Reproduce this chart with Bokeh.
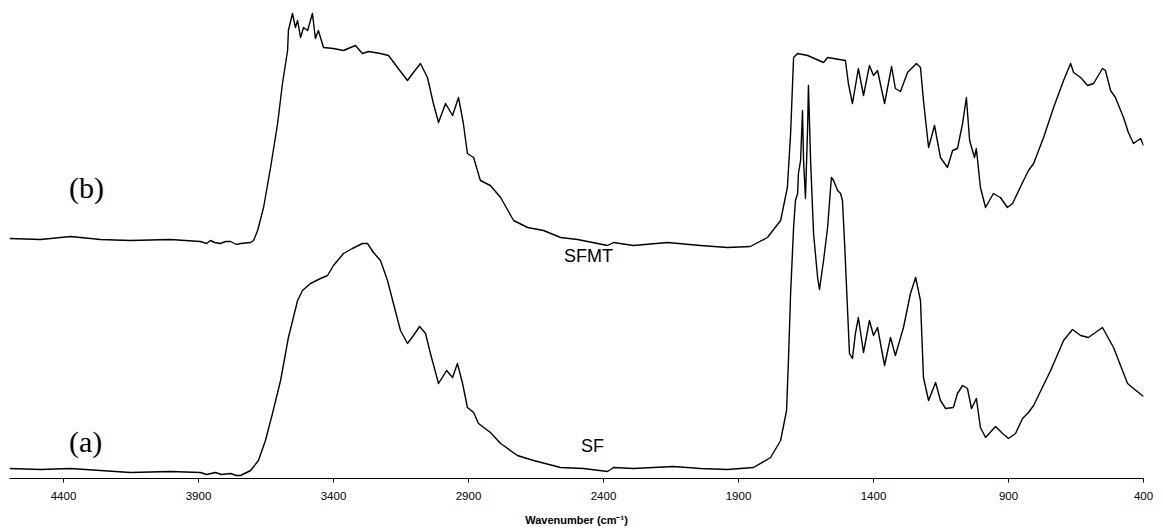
from bokeh.plotting import figure
from bokeh.models import Range1d, FixedTicker
from bokeh.core.properties import value
from bokeh.embed import file_html
from bokeh.resources import INLINE

# Wavenumber (cm-1) and intensity (arbitrary units)
sfmt_wn = [4600, 4485, 4374, 4263, 4152, 4004, 3893, 3870, 3856, 3840, 3819, 3800, 3781, 3760,
           3744, 3707, 3696, 3681,
           3659, 3633, 3607, 3589, 3570, 3567, 3552, 3541, 3533, 3522, 3511, 3496, 3478, 3467,
           3456, 3437, 3400, 3363, 3319, 3293, 3270, 3226, 3196, 3163, 3126, 3104, 3078, 3052,
           3030, 3011, 2985, 2959, 2937, 2919, 2904, 2881, 2856, 2819, 2781, 2733, 2681, 2622,
           2559, 2496, 2422, 2385, 2363, 2289, 2163, 2041, 1941, 1856, 1793, 1744, 1719, 1707,
           1696, 1681, 1644, 1585, 1570, 1504, 1493, 1478, 1456, 1437, 1415, 1400, 1385, 1359,
           1333, 1319, 1300, 1274, 1241, 1226, 1215, 1196, 1174, 1152, 1126, 1107, 1089, 1070,
           1056, 1044, 1026, 1019, 1004, 985, 956, 930, 904, 885, 848, 826, 807, 770, 733, 696,
           670, 659, 633, 607, 585, 552, 541, 522, 504, 474, 456, 437, 411, 400]
sfmt_int = [240, 239, 242, 239, 238, 239, 237, 235, 238, 236, 235, 237, 237, 234,
            235, 236, 238, 248,
            271, 311, 355, 395, 428, 448, 465, 451, 458, 441, 451, 448, 465, 440,
            448, 431, 430, 428, 433, 425, 427, 425, 423, 411, 398, 406, 415, 401,
            375, 356, 375, 363, 381, 355, 325, 321, 298, 293, 281, 258, 251, 248,
            241, 239, 235, 233, 236, 233, 236, 233, 231, 232, 241, 258, 291, 345,
            421, 425, 423, 416, 421, 418, 395, 375, 410, 383, 413, 403, 408, 375,
            412, 390, 387, 406, 415, 411, 378, 331, 353, 321, 311, 328, 330, 355,
            381, 338, 321, 330, 291, 271, 285, 281, 271, 275, 296, 308, 315, 341, 371, 398,
            415, 406, 401, 393, 395, 410, 408, 388, 381, 361, 346, 335, 340, 333]

sf_wn = [4600, 4485, 4374, 4152, 4004, 3893, 3870, 3837, 3815, 3781, 3760, 3744, 3707, 3678,
         3652, 3626, 3596,
         3567, 3533, 3515, 3485, 3448, 3422, 3400, 3363, 3330, 3293, 3274, 3252, 3226, 3200,
         3178, 3152, 3126, 3104, 3081, 3059, 3041, 3011, 2981, 2959, 2941, 2922, 2904, 2881,
         2863, 2819, 2781, 2719, 2659, 2559, 2474, 2385, 2363, 2289, 2141, 2041, 1941, 1844,
         1781, 1744, 1722, 1715, 1707, 1696, 1689, 1681, 1678, 1670, 1663, 1659, 1652, 1644,
         1641, 1633, 1622, 1607, 1600, 1585, 1570, 1556, 1548, 1533, 1522, 1515, 1507, 1496,
         1489, 1478, 1467, 1456, 1437, 1415, 1400, 1385, 1359, 1337, 1319, 1289, 1263, 1244,
         1226, 1215, 1196, 1170, 1152, 1133, 1104, 1089, 1070, 1052, 1037, 1019, 1004, 985,
         948, 922, 900, 874, 848, 826, 807, 744, 696, 663, 633, 604, 552, 511, 459, 437, 400]
sf_int = [10, 9, 10, 6, 7, 6, 4, 6, 4, 5, 3, 3, 8, 18,
          38, 65, 98,
          141, 178, 188, 195, 200, 203, 213, 225, 230, 235, 235, 226, 218, 198,
          175, 148, 135, 143, 152, 145, 125, 95, 108, 101, 115, 95, 71, 66,
          55, 46, 35, 23, 18, 11, 10, 7, 11, 10, 12, 10, 9, 11,
          21, 38, 68, 118, 185, 251, 278, 285, 305, 318, 368, 318, 280, 351,
          393, 318, 245, 201, 189, 218, 251, 301, 298, 288, 285, 278, 235, 168,
          125, 120, 145, 161, 126, 158, 143, 151, 113, 141, 123, 151, 185, 201,
          178, 101, 78, 96, 78, 70, 71, 85, 93, 90, 70, 80, 51, 41,
          52, 45, 40, 45, 60, 66, 73, 108, 138, 149, 143, 141, 151, 131, 95, 90, 82]

tick_values = [4400, 3900, 3400, 2900, 2400, 1900, 1400, 900, 400]
curve_labels = ["(b)", "(a)"]
sample_labels = ["SFMT", "SF"]

p = figure(width=1163, height=528, output_backend="svg", toolbar_location=None,
           x_range=Range1d(4600, 400), y_range=Range1d(0, 478),
           y_axis_location=None, min_border_left=9, min_border_right=20,
           min_border_top=0, min_border_bottom=50)
p.outline_line_color = None
p.grid.visible = False
p.background_fill_color = "white"
p.border_fill_color = "white"

p.line(sfmt_wn, sfmt_int, line_color="black", line_width=1.4, line_join="round")
p.line(sf_wn, sf_int, line_color="black", line_width=1.4, line_join="round")

ax = p.xaxis[0]
ax.ticker = FixedTicker(ticks=tick_values)
ax.minor_tick_line_color = None
ax.major_tick_in = 0
ax.major_tick_out = 4
ax.axis_line_color = "black"
ax.major_tick_line_color = "black"
ax.major_label_text_font = "Liberation Sans"
ax.major_label_text_font_size = "11.5px"
ax.major_label_text_color = "black"
ax.major_label_standoff = 9
ax.axis_label = "Wavenumber (cm\u207b\u00b9)"
ax.axis_label_text_font = "Liberation Sans"
ax.axis_label_text_font_style = "bold"
ax.axis_label_text_font_size = "11px"
ax.axis_label_text_color = "black"
ax.axis_label_standoff = 11

p.text(x=[4315, 4318], y=[291, 37], text=curve_labels,
       text_font=value("Liberation Serif"), text_font_size="30px",
       text_align="center", text_baseline="middle", text_color="black")
p.text(x=[2456, 2441], y=[223, 33], text=sample_labels,
       text_font=value("Liberation Sans"), text_font_size="18px",
       text_align="center", text_baseline="middle", text_color="black")

open("out.html", "w").write(file_html(p, INLINE))
